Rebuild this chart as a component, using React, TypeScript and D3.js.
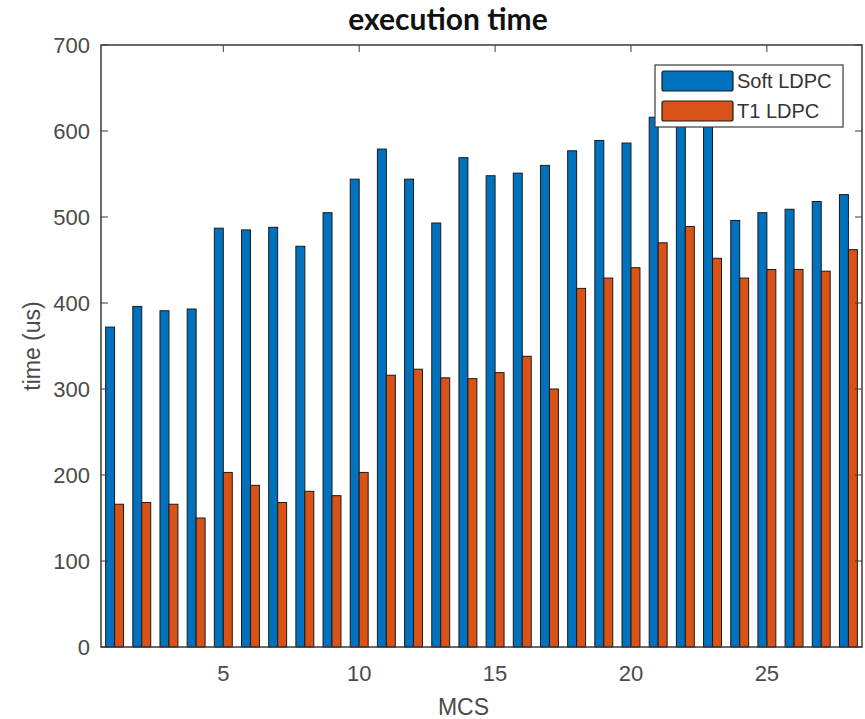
import React from "react";
import * as d3 from "d3";

// MCS index 1..28
const mcs = d3.range(1, 29);
const softLdpc = [372, 396, 391, 393, 487, 485, 488, 466, 505, 544, 579, 544, 493, 569, 548, 551, 560, 577, 589, 586, 616, 625, 630, 496, 505, 509, 518, 526];
const t1Ldpc = [166, 168, 166, 150, 203, 188, 168, 181, 176, 203, 316, 323, 313, 312, 319, 338, 300, 417, 429, 441, 470, 489, 452, 429, 439, 439, 437, 462];
const yTicks = [0, 100, 200, 300, 400, 500, 600, 700];
const xTicks = [5, 10, 15, 20, 25];
const seriesNames = ["Soft LDPC", "T1 LDPC"];
const seriesColors = ["#0072BD", "#D95319"];

const W = 865;
const H = 719;
const left = 101;
const right = 862;
const top = 45;
const bottom = 647;
const axisColor = "#3a3a3a";
const textColor = "#4a4a4a";
const font = "'Liberation Sans', Arial, sans-serif";

export default function App() {
  const x = d3.scaleLinear().domain([0.5, 28.5]).range([left, right]);
  const y = d3.scaleLinear().domain([0, 700]).range([bottom, top]);
  const barW = x(0.33) - x(0);
  const series = [softLdpc, t1Ldpc];

  return (
    <svg width={W} height={H} style={{ position: "absolute", left: 0, top: 0, background: "#fff" }}>
      {/* bars */}
      {series.map((vals, s) =>
        mcs.map((m, i) => (
          <rect
            key={`${s}-${m}`}
            x={s === 0 ? x(m) - barW : x(m)}
            y={y(vals[i])}
            width={barW}
            height={y(0) - y(vals[i])}
            fill={seriesColors[s]}
            stroke="#1a1a1a"
            strokeWidth={1}
          />
        ))
      )}

      {/* box */}
      <rect x={left} y={top} width={right - left} height={bottom - top} fill="none" stroke={axisColor} strokeWidth={1.5} />

      {/* y ticks */}
      {yTicks.map((t) => (
        <g key={`y${t}`}>
          <line x1={left} x2={left + 7} y1={y(t)} y2={y(t)} stroke={axisColor} />
          <line x1={right} x2={right - 7} y1={y(t)} y2={y(t)} stroke={axisColor} />
          <text x={left - 11} y={y(t)} dy="0.35em" textAnchor="end" fontSize={22} fontFamily={font} fill={textColor}>
            {t}
          </text>
        </g>
      ))}

      {/* x ticks */}
      {xTicks.map((t) => (
        <g key={`x${t}`}>
          <line x1={x(t)} x2={x(t)} y1={bottom} y2={bottom - 7} stroke={axisColor} />
          <line x1={x(t)} x2={x(t)} y1={top} y2={top + 7} stroke={axisColor} />
          <text x={x(t)} y={673} dy="0.35em" textAnchor="middle" fontSize={22} fontFamily={font} fill={textColor}>
            {t}
          </text>
        </g>
      ))}

      {/* labels */}
      <text x={(left + right) / 2 - 18} y={707} dy="0.35em" textAnchor="middle" fontSize={23} fontFamily={font} fill={textColor}>
        MCS
      </text>
      <text
        transform={`translate(32,${(top + bottom) / 2}) rotate(-90)`}
        dy="0.35em"
        textAnchor="middle"
        fontSize={23}
        fontFamily={font}
        fill={textColor}
      >
        time (us)
      </text>
      <text x={448} y={19} dy="0.35em" textAnchor="middle" fontSize={30} fontWeight="bold" fontFamily="Lato, 'Open Sans', sans-serif" fill="#111">
        execution time
      </text>

      {/* legend */}
      <rect x={655} y={65} width={188} height={62} fill="#fff" stroke={axisColor} strokeWidth={1.2} />
      {seriesNames.map((name, i) => (
        <g key={name}>
          <rect x={662} y={71 + i * 30} width={71} height={20} fill={seriesColors[i]} stroke="#1a1a1a" strokeWidth={1.2} rx={2} />
          <text x={737} y={81 + i * 30} dy="0.35em" fontSize={20} fontFamily={font} fill="#333">
            {name}
          </text>
        </g>
      ))}
    </svg>
  );
}
